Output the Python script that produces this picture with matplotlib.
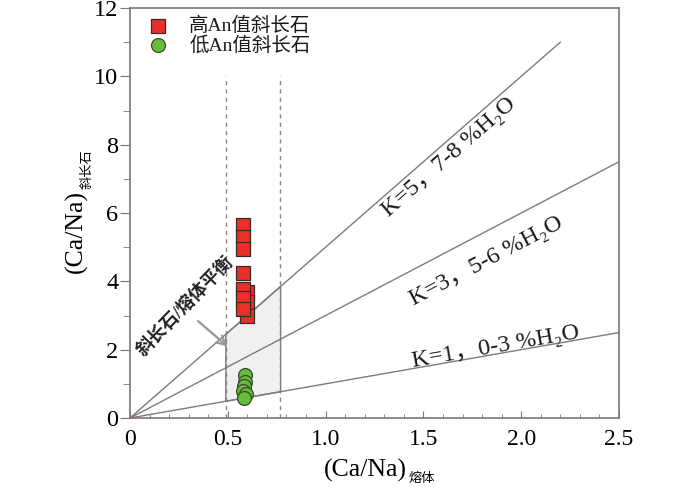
import numpy as np
import matplotlib
matplotlib.use('Agg')
from matplotlib import pyplot as plt

plt.rcParams['font.family'] = ['Liberation Serif', 'Noto Sans CJK SC', 'DejaVu Serif']

# data
hi_x = [0.58, 0.58, 0.58, 0.58, 0.60, 0.58, 0.60, 0.58, 0.60, 0.58]
hi_y = [5.65, 5.30, 4.95, 4.25, 3.70, 3.78, 3.40, 3.50, 3.00, 3.20]
lo_x = [0.59, 0.59, 0.585, 0.58, 0.595, 0.585]
lo_y = [1.25, 1.05, 0.95, 0.80, 0.70, 0.60]

k_values = [5, 3, 1]
k_xmax = [2.2, 2.5, 2.5]
k_labels = ['K=5，7-8 %H₂O', 'K=3，5-6 %H₂O', 'K=1，0-3 %H₂O']
k_label_pos = [(1.63, 7.62), (1.82, 4.60), (1.87, 2.08)]

eq_x = [0.49, 0.77]     # melt equilibrium window
dash_x = [0.49, 0.765]
dash_top = 10

xticks = [0, 0.5, 1.0, 1.5, 2.0, 2.5]
xticklabels = ['0', '0.5', '1.0', '1.5', '2.0', '2.5']
yticks = [0, 2, 4, 6, 8, 10, 12]

spine_c = '#7d7573'
line_c = '#807a78'

fig = plt.figure(figsize=(7, 4.88), dpi=100)
ax = fig.add_axes([130 / 700, 70 / 488, 489 / 700, 410 / 488])
ax.set_xlim(0, 2.5)
ax.set_ylim(0, 12)

# shaded box between K=1 and K=5
x0, x1 = eq_x
ax.fill([x0, x0, x1, x1], [1 * x0, 5 * x0, 5 * x1, 1 * x1],
        facecolor='#f0f0f2', edgecolor=line_c, lw=1.0, zorder=1)

for xd in dash_x:
    ax.plot([xd, xd], [0, dash_top], ls=(0, (3, 3)), color='#8a8684', lw=1.0, zorder=1)

for k, xm in zip(k_values, k_xmax):
    ax.plot([0, xm], [0, k * xm], color=line_c, lw=1.0, zorder=2)

ax.scatter(hi_x, hi_y, marker='s', s=95, c='#e8302a', edgecolors='#3a2a28',
           linewidths=0.9, zorder=4, label='高An值斜长石')
ax.scatter(lo_x, lo_y, marker='o', s=100, c='#66bb38', edgecolors='#3a4a30',
           linewidths=0.9, zorder=4, label='低An值斜长石')

leg = ax.legend(loc='upper left', frameon=False, fontsize=14, handletextpad=0.6,
                borderaxespad=0.1, labelspacing=0.05, borderpad=0.35)
for t in leg.get_texts():
    t.set_color('#1a1a1a')

# labels along the K lines
fig.canvas.draw()
for k, lab, (tx, ty) in zip(k_values, k_labels, k_label_pos):
    p0 = ax.transData.transform((0, 0))
    p1 = ax.transData.transform((1, k))
    ang = np.degrees(np.arctan2(p1[1] - p0[1], p1[0] - p0[0]))
    ax.text(tx, ty, lab, rotation=ang, ha='center', va='center',
            rotation_mode='anchor', fontsize=17.5, color='#1a1a1a')

ax.text(0.285, 3.28, '斜长石/熔体平衡', rotation=46, ha='center', va='center',
        rotation_mode='anchor', fontsize=13, fontweight='bold', color='#222222')
ax.annotate('', xy=(0.51, 2.04), xytext=(0.337, 2.89),
            arrowprops=dict(arrowstyle='->', color='#9a9694', lw=1.6, mutation_scale=16))

# ticks and spines
for s in ax.spines.values():
    s.set_color(spine_c)
    s.set_linewidth(1.2)
ax.set_xticks(xticks)
ax.set_xticklabels(xticklabels)
ax.set_xticks(np.arange(0, 2.51, 0.1), minor=True)
ax.set_yticks(yticks)
ax.set_yticks(np.arange(0, 12.1, 1), minor=True)
ax.tick_params(axis='x', which='major', direction='in', length=5, color=spine_c,
               labelsize=17, pad=8)
ax.tick_params(axis='x', which='minor', direction='in', length=3, color=spine_c)
ax.tick_params(axis='y', which='major', direction='out', length=7, color=spine_c,
               labelsize=17.5, pad=1.5)
ax.tick_params(axis='y', which='minor', direction='out', length=5, color=spine_c)

# axis titles with Chinese subscripts
xl = fig.text(407 / 700, 11 / 488, '(Ca/Na)', fontsize=18.5, ha='right', va='baseline')
ax.annotate('熔体', xy=(1, 0), xycoords=xl, xytext=(1, -2), textcoords='offset points',
            fontsize=9.5, ha='left', va='bottom')
yl = fig.text(88 / 700, 215 / 488, '(Ca/Na)', fontsize=18.5, rotation=90,
              ha='right', va='bottom')
ax.annotate('斜长石', xy=(1, 1), xycoords=yl, xytext=(4, 1), textcoords='offset points',
            fontsize=9.5, rotation=90, ha='right', va='bottom')

fig.savefig('out.png', dpi=100)
